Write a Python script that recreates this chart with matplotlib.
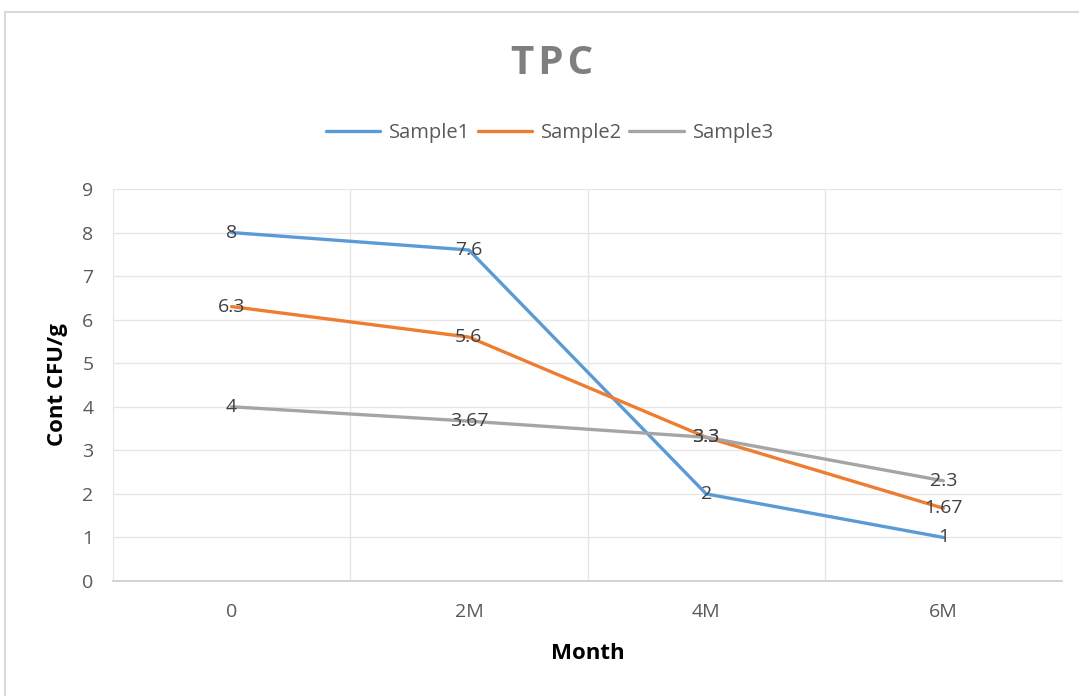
import matplotlib.pyplot as plt
from matplotlib.patches import Rectangle

months = ["0", "2M", "4M", "6M"]
sample1 = [8, 7.6, 2, 1]
sample2 = [6.3, 5.6, 3.3, 1.67]
sample3 = [4, 3.67, 3.3, 2.3]
series_names = ["Sample1", "Sample2", "Sample3"]
colors = ["#5B9BD5", "#ED7D31", "#A5A5A5"]

plt.rcParams['font.family'] = ['Open Sans', 'DejaVu Sans']

fig = plt.figure(figsize=(10.79, 6.96), dpi=100)
ax = fig.add_axes([113 / 1079, 1 - 581 / 696, (1062 - 113) / 1079, (581 - 189) / 696])

# chart border
fig.patches.append(Rectangle((5 / 1079, -0.01), 1.02, 1 - 12 / 696 + 0.01,
                             transform=fig.transFigure, fill=False,
                             edgecolor="#d9d9d9", linewidth=1.5))

x = list(range(len(months)))
for vals, name, c in zip([sample1, sample2, sample3], series_names, colors):
    ax.plot(x, vals, color=c, linewidth=2.4, label=name, solid_capstyle="round")

for vals in [sample1, sample2, sample3]:
    for xi, v in zip(x, vals):
        ax.text(xi, v, f"{v:g}", ha="center", va="center", fontsize=14,
                color="#404040", zorder=5)

ax.set_xlim(-0.5, 3.5)
ax.set_ylim(0, 9)
ax.set_yticks(range(0, 10))
ax.set_xticks(x)
ax.set_xticklabels(months)
ax.set_xticks([0.5, 1.5, 2.5, 3.5], minor=True)
ax.grid(True, which="major", axis="y", color="#e6e6e6", linewidth=1)
ax.grid(True, which="minor", axis="x", color="#e6e6e6", linewidth=1)
ax.set_axisbelow(True)
ax.tick_params(which="both", length=0)
ax.tick_params(axis="y", labelsize=14, labelcolor="#595959", pad=14)
ax.tick_params(axis="x", labelsize=14, labelcolor="#595959", pad=16)

for s in ["top", "right"]:
    ax.spines[s].set_visible(False)
ax.spines["left"].set_color("#e6e6e6")
ax.spines["bottom"].set_color("#d0d0d0")
ax.spines["bottom"].set_linewidth(1.3)

ax.set_ylabel("Cont CFU/g", fontsize=16, fontweight="bold", color="black")
ax.set_xlabel("Month", fontsize=16, fontweight="bold", color="black")
ax.yaxis.set_label_coords(-0.058, 0.5)
ax.xaxis.set_label_coords(0.5, -0.184)
ax.yaxis.label.set_va("center")
ax.xaxis.label.set_va("center")

fig.text(552 / 1079, 1 - 64 / 696, "T\u200aP\u200aC", ha="center", va="center", fontsize=29,
         fontweight="bold", color="#7f7f7f")

leg = fig.legend(loc="center", bbox_to_anchor=(550 / 1079, 1 - 133 / 696), ncol=3,
                 frameon=False, fontsize=14.5, handlelength=2.7, columnspacing=0.35,
                 handletextpad=0.45)
for t in leg.get_texts():
    t.set_color("#595959")

fig.savefig("out.png", dpi=100)
